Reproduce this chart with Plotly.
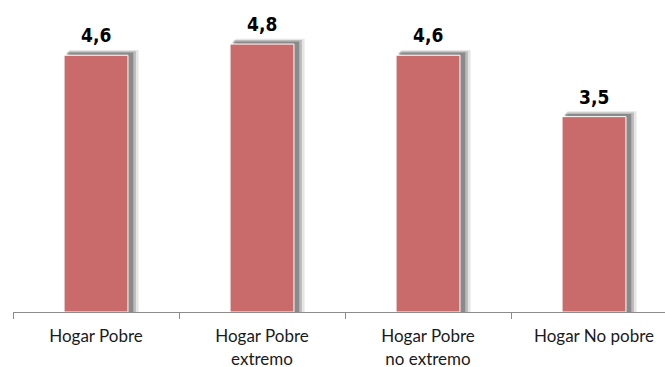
import plotly.graph_objects as go

## data
categories = ['Hogar Pobre', 'Hogar Pobre<br>extremo', 'Hogar Pobre<br>no extremo', 'Hogar No pobre']
values = [4.6, 4.8, 4.6, 3.5]
value_labels = ['4,6', '4,8', '4,6', '3,5']

params = dict(
    width = 665, height = 367,
    bar_color = 'rgb(201,107,106)',
    bar_width = 0.385,
    )

fig = go.Figure()

## soft shadow behind each bar
for off, alpha in [(0.032, 0.10), (0.024, 0.18), (0.016, 0.26)]:
    fig.add_trace(go.Bar(
        x = categories, y = [v + off * 3 for v in values],
        width = params['bar_width'] + off,
        offset = -params['bar_width'] / 2 + off,
        marker = dict(color = 'rgba(0,0,0,%s)' % alpha, line = dict(width = 0)),
        hoverinfo = 'skip', showlegend = False,
        ))

fig.add_trace(go.Bar(
    x = categories, y = values,
    width = params['bar_width'],
    offset = -params['bar_width'] / 2,
    marker = dict(color = params['bar_color'], line = dict(color = 'white', width = 1)),
    showlegend = False,
    ))

for c, v, t in zip(categories, values, value_labels):
    fig.add_annotation(
        x = c, y = v, text = '<b>%s</b>' % t, showarrow = False,
        yshift = 20,
        font = dict(family = 'Liberation Sans Narrow, DejaVu Sans Condensed, Arial Narrow, sans-serif',
                    size = 19, color = 'black'),
        )

fig.update_layout(
    width = params['width'], height = params['height'],
    barmode = 'overlay',
    plot_bgcolor = 'white', paper_bgcolor = 'white',
    margin = dict(l = 13, r = 0, t = 5, b = 55, autoexpand = False),
    xaxis = dict(
        type = 'category', range = [-0.5, 3.5 - 12 / 166], automargin = False,
        tickson = 'boundaries', ticks = 'outside', ticklen = 6, tickcolor = '#8c8c8c',
        ticklabelstandoff = 9,
        showline = True, linecolor = '#8c8c8c', linewidth = 1,
        tickfont = dict(family = 'Lato, Open Sans, sans-serif', size = 17, color = '#1a1a1a'),
        showgrid = False,
        ),
    yaxis = dict(range = [0, 5.5], visible = False, showgrid = False, zeroline = False),
    )

fig.write_html('out.html', config = dict(displayModeBar = False),
               post_script = "document.body.style.margin = '0';")
